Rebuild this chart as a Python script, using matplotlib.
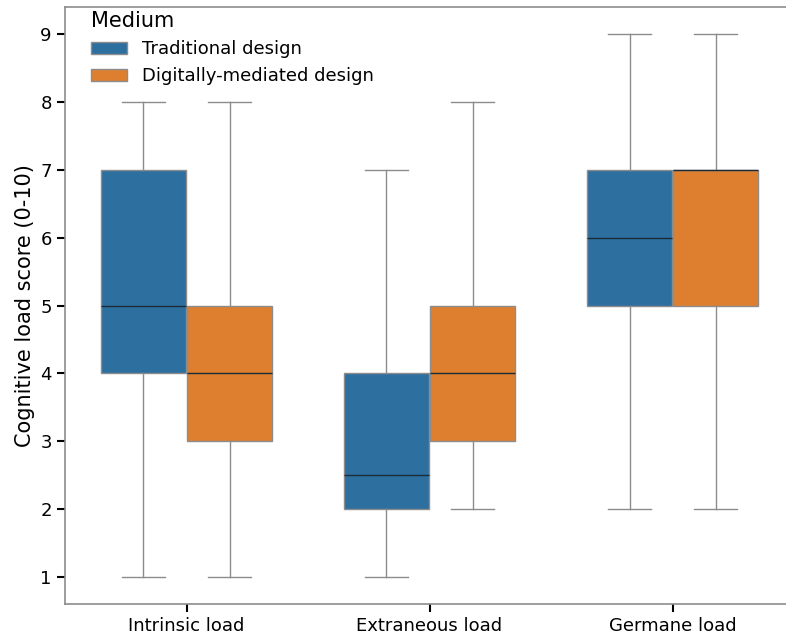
import matplotlib

matplotlib.use("Agg")
import matplotlib.pyplot as plt
from matplotlib.patches import Patch

categories = ["Intrinsic load", "Extraneous load", "Germane load"]
media = ["Traditional design", "Digitally-mediated design"]

# five-number summaries: (whisker low, q1, median, q3, whisker high)
traditional_stats = [
    (1, 4, 5, 7, 8),
    (1, 2, 2.5, 4, 7),
    (2, 5, 6, 7, 9),
]
digital_stats = [
    (1, 3, 4, 5, 8),
    (2, 3, 4, 5, 8),
    (2, 5, 7, 7, 9),
]

colors = ["#2d70a0", "#de7f30"]
edge_gray = "#8c8c8c"


def to_bxp(stats, label):
    lo, q1, med, q3, hi = stats
    return {"whislo": lo, "q1": q1, "med": med, "q3": q3, "whishi": hi, "fliers": [], "label": label}


def main():
    fig = plt.figure(figsize=(7.86, 6.39), dpi=100)
    # right edge of the original is cropped, so the axes run past the figure
    ax = fig.add_axes([0.0827, 0.0548, 0.9275, 0.934])

    offset = 0.177
    box_width = 0.35
    for k, (series, color) in enumerate(zip([traditional_stats, digital_stats], colors)):
        positions = [i + (k - 0.5) * 2 * offset for i in range(len(categories))]
        ax.bxp(
            [to_bxp(s, c) for s, c in zip(series, categories)],
            positions=positions,
            widths=box_width,
            patch_artist=True,
            showfliers=False,
            manage_ticks=False,
            boxprops=dict(facecolor=color, edgecolor=edge_gray, linewidth=1.0),
            whiskerprops=dict(color=edge_gray, linewidth=1.0),
            capprops=dict(color=edge_gray, linewidth=1.0),
            medianprops=dict(color="#1c2a36", linewidth=1.0),
        )

    ax.set_xlim(-0.5, 2.5)
    ax.set_ylim(0.6, 9.4)
    ax.set_xticks(range(len(categories)))
    ax.set_xticklabels(categories)
    ax.set_yticks(range(1, 10))
    ax.tick_params(axis="both", labelsize=13, length=6, width=1.5, color="black")
    ax.set_ylabel("Cognitive load score (0-10)", fontsize=15)
    for spine in ax.spines.values():
        spine.set_color(edge_gray)
        spine.set_linewidth(1.2)
    ax.spines["right"].set_visible(False)

    handles = [Patch(facecolor=c, edgecolor=edge_gray, label=m) for c, m in zip(colors, media)]
    ax.legend(
        handles=handles,
        title="Medium",
        loc="upper left",
        bbox_to_anchor=(0.02, 1.013),
        borderaxespad=0.25,
        frameon=False,
        fontsize=13,
        title_fontsize=15,
        alignment="left",
        labelspacing=0.5,
    )

    fig.savefig("out.png", dpi=100)
    plt.close(fig)


if __name__ == "__main__":
    main()
